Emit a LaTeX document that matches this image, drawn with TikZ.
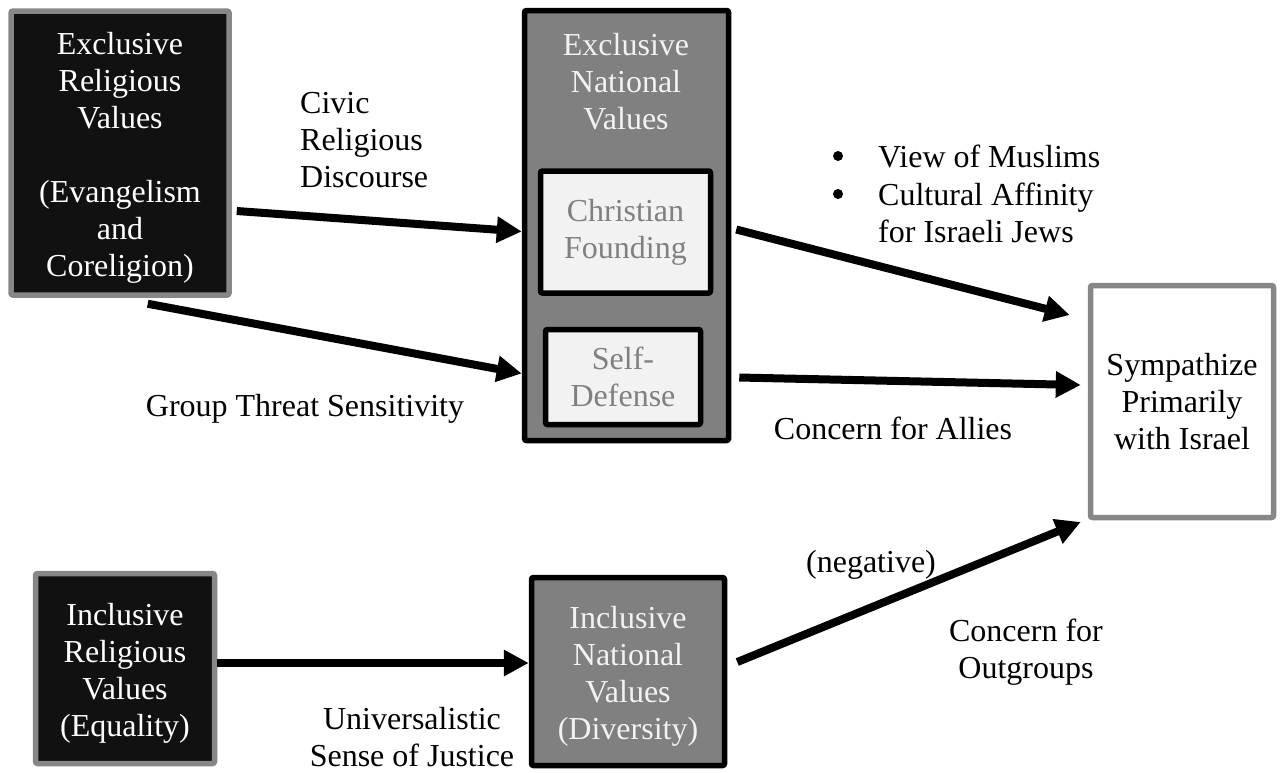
\documentclass[tikz,border=0pt]{standalone}
\usepackage{fontspec}
\setmainfont{Liberation Serif}
\usetikzlibrary{arrows.meta}
\definecolor{boxblack}{HTML}{111111}
\definecolor{boxgray}{HTML}{808080}
\definecolor{lightfill}{HTML}{F2F2F2}
\definecolor{rimgray}{HTML}{878787}
\tikzset{
  txt/.style={font=\fontsize{32}{37}\selectfont, align=center, inner sep=0pt},
  relbox/.style={draw=rimgray, line width=5.5pt, fill=boxblack, rounded corners=2pt, text=white},
  natbox/.style={draw=black, line width=5.5pt, fill=boxgray, rounded corners=2pt, text=lightfill},
  innerbox/.style={draw=black, line width=5.5pt, fill=lightfill, rounded corners=2pt, text=boxgray},
  outbox/.style={draw=rimgray, line width=5.5pt, fill=white, rounded corners=2pt, text=black},
  arr/.style={line width=8pt, -{Triangle[length=25pt,width=25pt]}},
  lbl/.style={txt, text=black},
  dot/.style={circle, fill=black, inner sep=0pt, minimum size=10pt},
}
\begin{document}
\begin{tikzpicture}[x=1pt,y=-1pt]
\useasboundingbox (0,0) rectangle (1284,772);
% boxes
\node[relbox, minimum width=218pt, minimum height=284pt] (erv) at (120,153) {};
\node[txt, text=white] (ervt) at (120,158)
  {Exclusive\\Religious\\Values\\[37pt](Evangelism\\and\\Coreligion)};
\node[natbox, minimum width=204pt, minimum height=430pt] (env) at (626.5,225.5) {};
\node[txt, text=lightfill, anchor=north] (envt) at (626,33) {Exclusive\\National\\Values};
\node[innerbox, txt, minimum width=170pt, minimum height=122pt] (cf) at (625.5,232) {Christian\\Founding};
\node[innerbox, txt, minimum width=155pt, minimum height=95pt] (sd) at (623,377) {Self-\\Defense};
\node[outbox, txt, minimum width=183pt, minimum height=232pt] (sym) at (1182,401.5) {Sympathize\\Primarily\\with Israel};
\node[relbox, minimum width=179pt, minimum height=190pt] (irv) at (125,668.5) {};
\node[txt, text=white] (irvt) at (125,673) {Inclusive\\Religious\\Values\\(Equality)};
\node[natbox, minimum width=193pt, minimum height=188pt] (inv) at (628,671.5) {};
\node[txt, text=lightfill] (invt) at (628,676) {Inclusive\\National\\Values\\(Diversity)};
% labels
\node[lbl, align=left, anchor=west] (civ) at (300,140) {Civic\\Religious\\Discourse};
\node[lbl, anchor=center] (gts) at (305,409) {Group Threat Sensitivity};
\node[lbl, anchor=west] (b1) at (878,156) {View of Muslims};
\node[lbl, anchor=west, align=left] (b2) at (878,213) {Cultural Affinity\\for Israeli Jews};
\node[dot] (d1) at (838,156) {};
\node[dot] (d2) at (838,194) {};
\node[lbl] (cfa) at (893,428) {Concern for Allies};
\node[lbl] (neg) at (871,565) {(negative)};
\node[lbl] (cfo) at (1026,652) {Concern for\\Outgroups};
\node[lbl] (usj) at (412,737) {Universalistic\\Sense of Justice};
% connectors
\draw[arr] ([xshift=5pt,yshift=-58pt]erv.east) -- ([yshift=-6pt]env.west);
\draw[arr] ([xshift=-84pt,yshift=-6pt]erv.south east) -- ([yshift=-148pt]env.west);
\draw[arr] ([xshift=5pt,yshift=-4pt]env.east) -- ([xshift=-18pt,yshift=86.5pt]sym.west);
\draw[arr] ([xshift=8pt,yshift=-152pt]env.east) -- ([xshift=-7pt,yshift=16.5pt]sym.west);
\draw[arr] ([yshift=5.5pt]irv.east) -- ([yshift=8.5pt]inv.west);
\draw[arr] ([xshift=10pt,yshift=9.5pt]inv.east) -- ([xshift=-7pt,yshift=-120.5pt]sym.west);
\end{tikzpicture}
\end{document}
